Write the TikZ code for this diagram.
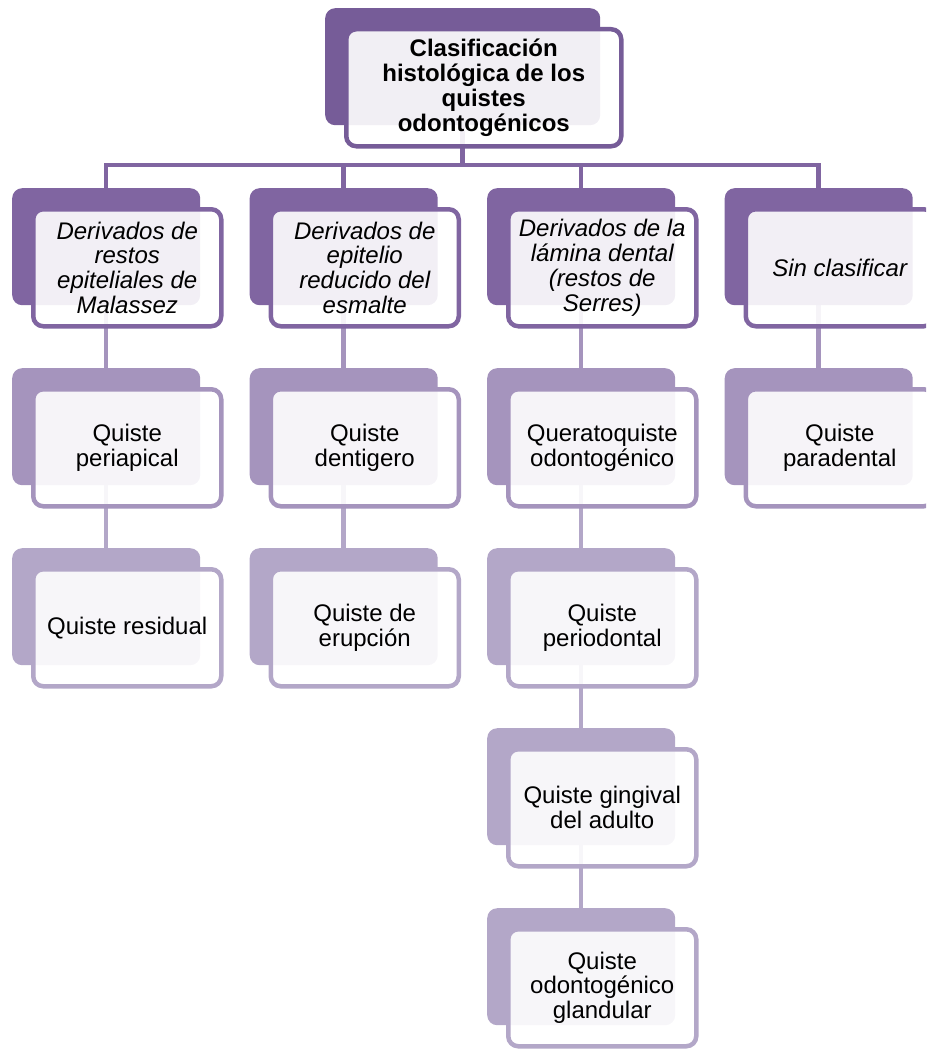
\documentclass[tikz,border=0pt]{standalone}
\usepackage{fontspec}
\setmainfont{Liberation Sans}
\pgfdeclarelayer{bg}
\pgfsetlayers{bg,main}
\definecolor{ctop}{RGB}{118,92,152}
\definecolor{cl1}{RGB}{128,101,161}
\definecolor{cl2}{RGB}{165,148,189}
\definecolor{cl3}{RGB}{179,167,200}
\tikzset{
  backbox/.style={rectangle, rounded corners=10pt, minimum width=188pt, minimum height=117pt,
    inner sep=0pt, anchor=north west},
  frontbox/.style={rectangle, rounded corners=10pt, minimum width=188pt, minimum height=117pt,
    inner sep=0pt, anchor=north west, fill=white, fill opacity=0.9, text opacity=1,
    line width=4.5pt, align=center, text=black},
  txt/.style={font=\fontsize{24}{24.8}\selectfont},
  itxt/.style={font=\fontsize{24}{24.8}\selectfont\itshape},
  btxt/.style={font=\fontsize{24}{24.8}\selectfont\bfseries},
  link/.style={line width=4.5pt},
}
\newcommand\qbox[6]{%
  \node[backbox, fill=#4, #5] (#1b) at (#2,#3) {};
  \node[frontbox, draw=#4, #5] (#1) at ([shift={(19,19)}]#1b.north west) {#6};}
\begin{document}
\begin{tikzpicture}[x=1pt,y=-1pt]
\useasboundingbox (0,0) rectangle (926,1049);
\clip (0,0) rectangle (926,1049);
% top
\qbox{top}{325}{8}{ctop}{minimum width=275pt, btxt}{Clasificación\\histológica de los\\quistes\\odontogénicos}
% level 1
\qbox{m1}{12}{188}{cl1}{itxt}{Derivados de\\restos\\epiteliales de\\Malassez}
\qbox{e1}{249.5}{188}{cl1}{itxt}{Derivados de\\epitelio\\reducido del\\esmalte}
\qbox{d1}{487}{188}{cl1}{itxt}{Derivados de la\\lámina dental\\(restos de\\Serres)}
\qbox{s1}{724.5}{188}{cl1}{itxt}{Sin clasificar}
% level 2
\qbox{m2}{12}{368}{cl2}{txt}{Quiste\\periapical}
\qbox{e2}{249.5}{368}{cl2}{txt}{Quiste\\dentigero}
\qbox{d2}{487}{368}{cl2}{txt}{Queratoquiste\\odontogénico}
\qbox{s2}{724.5}{368}{cl2}{txt}{Quiste\\paradental}
% level 3
\qbox{m3}{12}{548}{cl3}{txt}{Quiste residual}
\qbox{e3}{249.5}{548}{cl3}{txt}{Quiste de\\erupción}
\qbox{d3}{487}{548}{cl3}{txt}{Quiste\\periodontal}
% level 4, 5
\qbox{d4}{487}{728}{cl3}{txt}{Quiste gingival\\del adulto}
\qbox{d5}{487}{908}{cl3}{txt}{Quiste\\odontogénico\\glandular}
% connectors
\begin{pgfonlayer}{bg}
\coordinate (bar) at (0,165);
\draw[link, cl1] (topb.center) -- (topb.center |- bar);
\draw[link, cl1] (m1b.center) -- (m1b.center |- bar) -- (s1b.center |- bar) -- (s1b.center);
\draw[link, cl1] (e1b.center |- bar) -- (e1b.center);
\draw[link, cl1] (d1b.center |- bar) -- (d1b.center);
\draw[link, cl2] (m1b.center) -- (m2b.center);
\draw[link, cl2] (e1b.center) -- (e2b.center);
\draw[link, cl2] (d1b.center) -- (d2b.center);
\draw[link, cl2] (s1b.center) -- (s2b.center);
\draw[link, cl3] (m2b.center) -- (m3b.center);
\draw[link, cl3] (e2b.center) -- (e3b.center);
\draw[link, cl3] (d2b.center) -- (d3b.center);
\draw[link, cl3] (d3b.center) -- (d4b.center);
\draw[link, cl3] (d4b.center) -- (d5b.center);
\end{pgfonlayer}
\end{tikzpicture}
\end{document}
